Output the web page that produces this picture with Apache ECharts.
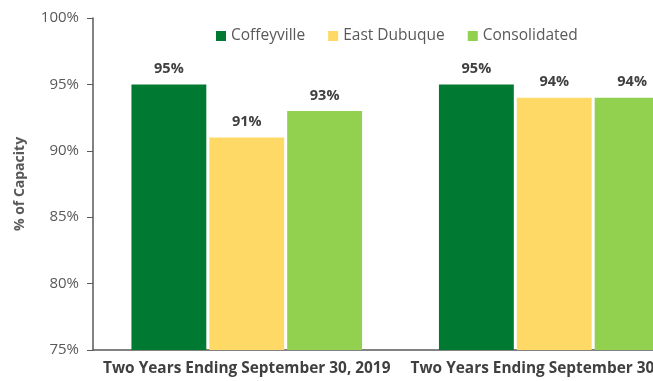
<!DOCTYPE html>
<html>
<head>
<meta charset="utf-8">
<script src="https://cdn.jsdelivr.net/npm/echarts@6/dist/echarts.min.js"></script>
<style>
  html, body { margin: 0; padding: 0; width: 653px; height: 381px; overflow: hidden; background: #fff; }
  #chart { width: 720px; height: 381px; }
</style>
</head>
<body>
<div id="chart"></div>
<script>
// Capacity utilization by facility, two-year periods
const categories = ['Two Years Ending September 30, 2019', 'Two Years Ending September 30, 2020'];
const seriesNames = ['Coffeyville', 'East Dubuque', 'Consolidated'];
const coffeyville = [95, 95];
const eastDubuque = [91, 94];
const consolidated = [93, 94];
const yTicks = { min: 75, max: 100, step: 5 };

const colors = ['#007A33', '#FFD966', '#92D050'];
const font = 'Open Sans';

function barSeries(name, data, color) {
  return {
    name: name,
    type: 'bar',
    data: data,
    barGap: '4%',
    barCategoryGap: '25%',
    itemStyle: { color: color },
    label: {
      show: true,
      position: 'top',
      distance: 8,
      formatter: p => p.value + '%',
      fontFamily: font,
      fontWeight: 'bold',
      fontSize: 14.5,
      color: '#404040'
    }
  };
}

const chart = echarts.init(document.getElementById('chart'));
chart.setOption({
  animation: false,
  textStyle: { fontFamily: font },
  legend: {
    top: 23,
    left: 211,
    itemWidth: 10,
    itemHeight: 10,
    itemGap: 23,
    icon: 'rect',
    textStyle: { fontFamily: font, fontSize: 15.5, color: '#595959' },
    data: seriesNames
  },
  grid: { left: 93, right: 12, top: 18, bottom: 31, containLabel: false },
  xAxis: {
    type: 'category',
    data: categories,
    axisLine: { lineStyle: { color: '#595959', width: 1.5 } },
    axisTick: { show: false },
    axisLabel: {
      interval: 0,
      margin: 11,
      fontFamily: font,
      fontWeight: 'bold',
      fontSize: 15.4,
      color: '#404040'
    }
  },
  yAxis: {
    type: 'value',
    min: yTicks.min,
    max: yTicks.max,
    interval: yTicks.step,
    name: '% of Capacity',
    nameLocation: 'middle',
    nameGap: 66,
    nameTextStyle: { fontFamily: font, fontWeight: 'bold', fontSize: 14, color: '#595959' },
    axisLine: { show: true, lineStyle: { color: '#595959', width: 1.5 } },
    axisTick: { show: true, length: 6, lineStyle: { color: '#595959' } },
    splitLine: { show: false },
    axisLabel: {
      margin: 14,
      formatter: v => v + '%',
      fontFamily: font,
      fontSize: 15,
      color: '#595959'
    }
  },
  series: [
    barSeries(seriesNames[0], coffeyville, colors[0]),
    barSeries(seriesNames[1], eastDubuque, colors[1]),
    barSeries(seriesNames[2], consolidated, colors[2])
  ]
});
</script>
</body>
</html>
